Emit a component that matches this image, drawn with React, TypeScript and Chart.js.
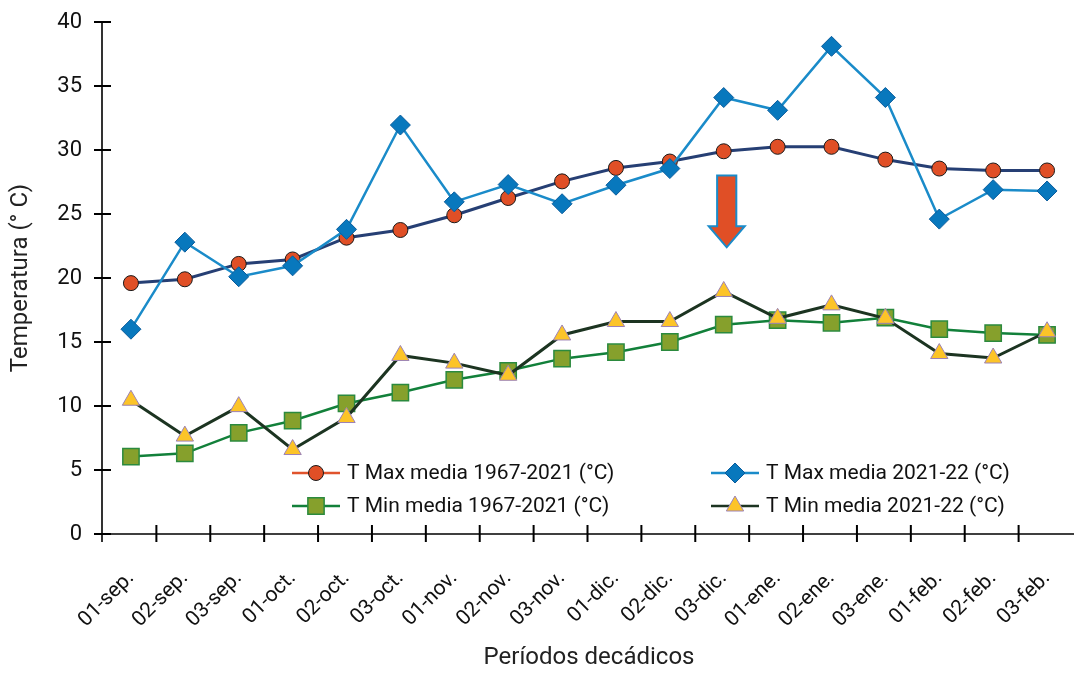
import React, { useEffect, useRef } from 'react';
import { Chart, registerables } from 'chart.js';

Chart.register(...registerables);

const categories = ['01-sep.', '02-sep.', '03-sep.', '01-oct.', '02-oct.', '03-oct.', '01-nov.', '02-nov.', '03-nov.', '01-dic.', '02-dic.', '03-dic.', '01-ene.', '02-ene.', '03-ene.', '01-feb.', '02-feb.', '03-feb.'];

const tMaxHist = [19.6, 19.9, 21.1, 21.45, 23.15, 23.75, 24.9, 26.25, 27.55, 28.6, 29.1, 29.9, 30.25, 30.25, 29.25, 28.55, 28.4, 28.4];
const tMax2122 = [16.0, 22.8, 20.1, 20.95, 23.8, 31.95, 25.95, 27.3, 25.8, 27.25, 28.55, 34.1, 33.1, 38.1, 34.1, 24.6, 26.9, 26.8];
const tMinHist = [6.05, 6.3, 7.9, 8.85, 10.2, 11.05, 12.05, 12.75, 13.7, 14.2, 15.0, 16.35, 16.7, 16.5, 16.9, 16.0, 15.7, 15.55];
const tMin2122 = [10.45, 7.65, 9.95, 6.6, 9.1, 13.95, 13.35, 12.4, 15.55, 16.6, 16.6, 18.95, 16.85, 17.9, 16.85, 14.1, 13.75, 15.8];

const seriesNames = [
  'T Max media 1967-2021 (°C)',
  'T Min media 1967-2021 (°C)',
  'T Max media 2021-22 (°C)',
  'T Min media 2021-22 (°C)',
];

const yTitle = 'Temperatura (° C)';
const xTitle = 'Períodos decádicos';
const arrowCategoryIndex = 11;
const arrowTop = 28;
const arrowHeadStart = 24.05;
const arrowTip = 22.4;

const FONT = 'Roboto, "Noto Sans", sans-serif';

const C = {
  navy: '#263f74',
  red: '#e04f26',
  lightBlue: '#1a8bc9',
  diamond: '#0878bd',
  diamondBorder: '#0a5c9c',
  green: '#12803a',
  olive: '#86a02c',
  squareBorder: '#2b8a3e',
  dark: '#1c3421',
  yellow: '#fcc428',
  purple: '#9c82b6',
};

function drawMarker(ctx: CanvasRenderingContext2D, style: string, x: number, y: number, r: number, fill: string, stroke: string, bw: number) {
  ctx.save();
  ctx.beginPath();
  if (style === 'circle') {
    ctx.arc(x, y, r, 0, Math.PI * 2);
  } else if (style === 'rectRot') {
    ctx.moveTo(x - r, y);
    ctx.lineTo(x, y - r);
    ctx.lineTo(x + r, y);
    ctx.lineTo(x, y + r);
    ctx.closePath();
  } else if (style === 'rect') {
    const s = Math.SQRT1_2 * r;
    ctx.rect(x - s, y - s, 2 * s, 2 * s);
  } else if (style === 'triangle') {
    ctx.moveTo(x, y - r);
    ctx.lineTo(x + r * Math.sin(Math.PI / 3), y + r / 2);
    ctx.lineTo(x - r * Math.sin(Math.PI / 3), y + r / 2);
    ctx.closePath();
  }
  ctx.fillStyle = fill;
  ctx.fill();
  ctx.lineWidth = bw;
  ctx.strokeStyle = stroke;
  ctx.stroke();
  ctx.restore();
}

const axesPlugin = {
  id: 'crossAxes',
  afterDraw(chart: any) {
    const { ctx, chartArea, scales } = chart;
    const xs = scales.x;
    const ys = scales.y;
    const axisX = chartArea.left - 2;
    ctx.save();
    ctx.strokeStyle = '#000';
    ctx.lineWidth = 1.6;
    ctx.beginPath();
    ctx.moveTo(axisX, chartArea.top);
    ctx.lineTo(axisX, chartArea.bottom + 8);
    ctx.moveTo(axisX, chartArea.bottom);
    ctx.lineTo(chart.width, chartArea.bottom);
    ctx.stroke();
    ctx.lineWidth = 2;
    ctx.beginPath();
    ys.ticks.forEach((t: any) => {
      const py = ys.getPixelForValue(t.value);
      ctx.moveTo(axisX - 8, py);
      ctx.lineTo(axisX + 9, py);
    });
    for (let i = 0; i < categories.length - 1; i++) {
      const px = (xs.getPixelForValue(i) + xs.getPixelForValue(i + 1)) / 2 - 1.5;
      ctx.moveTo(px, chartArea.bottom - 9);
      ctx.lineTo(px, chartArea.bottom + 8);
    }
    ctx.stroke();
    ctx.restore();
  },
};

const arrowPlugin = {
  id: 'arrow',
  afterDatasetsDraw(chart: any) {
    const { ctx, scales } = chart;
    const x = scales.x.getPixelForValue(arrowCategoryIndex) + 3;
    const top = scales.y.getPixelForValue(arrowTop);
    const hs = scales.y.getPixelForValue(arrowHeadStart);
    const tip = scales.y.getPixelForValue(arrowTip);
    const sw = 9.6;
    const hw = 18;
    ctx.save();
    ctx.beginPath();
    ctx.moveTo(x - sw, top);
    ctx.lineTo(x + sw, top);
    ctx.lineTo(x + sw, hs);
    ctx.lineTo(x + hw, hs);
    ctx.lineTo(x, tip);
    ctx.lineTo(x - hw, hs);
    ctx.lineTo(x - sw, hs);
    ctx.closePath();
    ctx.fillStyle = '#e04f26';
    ctx.fill();
    ctx.lineWidth = 2;
    ctx.strokeStyle = '#1a8bc9';
    ctx.lineJoin = 'miter';
    ctx.stroke();
    ctx.restore();
  },
};

const legendItems = [
  { col: 0, row: 0, name: seriesNames[0], line: '#e0532c', style: 'circle', r: 7.5, fill: C.red, stroke: '#1a1a1a', bw: 1 },
  { col: 0, row: 1, name: seriesNames[1], line: C.green, style: 'rect', r: 11.5, fill: C.olive, stroke: C.squareBorder, bw: 1.5 },
  { col: 1, row: 0, name: seriesNames[2], line: C.lightBlue, style: 'rectRot', r: 10, fill: C.diamond, stroke: C.diamondBorder, bw: 1 },
  { col: 1, row: 1, name: seriesNames[3], line: C.dark, style: 'triangle', r: 10, fill: C.yellow, stroke: C.purple, bw: 1 },
];

const legendPlugin = {
  id: 'customLegend',
  afterDraw(chart: any) {
    const { ctx } = chart;
    const colX = [292, 711];
    const rowY = [473, 506];
    ctx.save();
    legendItems.forEach((it) => {
      const x0 = colX[it.col];
      const y = rowY[it.row];
      ctx.strokeStyle = it.line;
      ctx.lineWidth = 2.5;
      ctx.beginPath();
      ctx.moveTo(x0, y);
      ctx.lineTo(x0 + 48, y);
      ctx.stroke();
      drawMarker(ctx, it.style, x0 + 24, y, it.r, it.fill, it.stroke, it.bw);
      ctx.fillStyle = '#111';
      ctx.font = '21px ' + FONT;
      ctx.textBaseline = 'middle';
      ctx.textAlign = 'left';
      ctx.fillText(it.name, x0 + 55, y + 1);
    });
    ctx.restore();
  },
};

export default function App() {
  const ref = useRef<HTMLCanvasElement | null>(null);

  useEffect(() => {
    document.body.style.margin = '0';
    const canvas = ref.current;
    if (!canvas) return;
    Chart.defaults.font.family = FONT;
    const chart = new Chart(canvas, {
      type: 'line',
      data: {
        labels: categories,
        datasets: [
          {
            label: seriesNames[2],
            data: tMax2122,
            borderColor: C.lightBlue,
            borderWidth: 2.5,
            pointStyle: 'rectRot',
            pointRadius: 10,
            pointBackgroundColor: C.diamond,
            pointBorderColor: C.diamondBorder,
            pointBorderWidth: 1,
            tension: 0,
            clip: false,
          },
          {
            label: seriesNames[3],
            data: tMin2122,
            borderColor: C.dark,
            borderWidth: 3,
            pointStyle: 'triangle',
            pointRadius: 10,
            pointBackgroundColor: C.yellow,
            pointBorderColor: C.purple,
            pointBorderWidth: 1,
            tension: 0,
            clip: false,
          },
          {
            label: seriesNames[0],
            data: tMaxHist,
            borderColor: C.navy,
            borderWidth: 3,
            pointStyle: 'circle',
            pointRadius: 7.5,
            pointBackgroundColor: C.red,
            pointBorderColor: '#1a1a1a',
            pointBorderWidth: 1,
            tension: 0,
            clip: false,
          },
          {
            label: seriesNames[1],
            data: tMinHist,
            borderColor: C.green,
            borderWidth: 2.5,
            pointStyle: 'rect',
            pointRadius: 11.5,
            pointBackgroundColor: C.olive,
            pointBorderColor: C.squareBorder,
            pointBorderWidth: 1.5,
            tension: 0,
            clip: false,
          },
        ],
      },
      options: {
        responsive: false,
        animation: false,
        layout: { autoPadding: false, padding: { top: 22, right: -4, left: 0, bottom: 0 } },
        plugins: {
          legend: { display: false },
          tooltip: { enabled: false },
        },
        scales: {
          x: {
            type: 'category',
            offset: true,
            grid: { display: false, drawTicks: false },
            border: { display: false },
            ticks: {
              autoSkip: false,
              maxRotation: 45,
              minRotation: 45,
              padding: 32,
              color: '#111',
              font: { size: 21, family: FONT },
            },
            title: {
              display: true,
              text: xTitle,
              color: '#222',
              font: { size: 24, family: FONT },
              padding: { top: 0, bottom: 1 },
            },
            afterFit: (s: any) => {
              s.height = 139;
              s.paddingLeft = 0;
              s.paddingRight = 0;
              s.paddingTop = 0;
              s.paddingBottom = 0;
            },
          },
          y: {
            min: 0,
            max: 40,
            grid: { display: false, drawTicks: false },
            border: { display: false },
            ticks: {
              stepSize: 5,
              padding: 22,
              color: '#111',
              font: { size: 22, family: FONT },
            },
            title: {
              display: true,
              text: yTitle,
              color: '#222',
              font: { size: 24, family: FONT },
              padding: { top: 7, bottom: 0 },
            },
            afterFit: (s: any) => {
              s.width = 104;
              s.paddingLeft = 0;
              s.paddingRight = 0;
              s.paddingTop = 0;
              s.paddingBottom = 0;
            },
          },
        },
      },
      plugins: [axesPlugin, arrowPlugin, legendPlugin],
    });
    return () => chart.destroy();
  }, []);

  return (
    <div style={{ width: 1074, height: 673 }}>
      <canvas ref={ref} width={1074} height={673} style={{ display: 'block' }} />
    </div>
  );
}
